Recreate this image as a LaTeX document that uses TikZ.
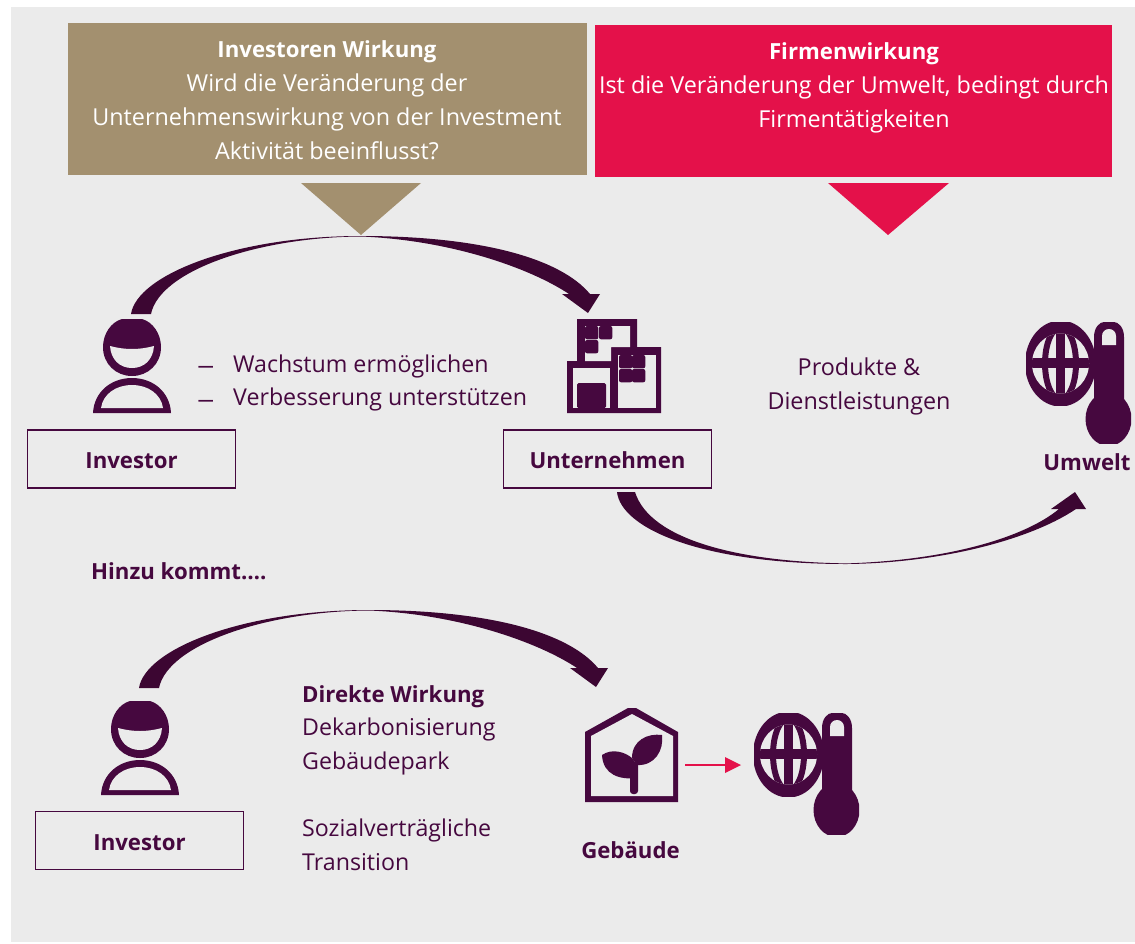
\documentclass[tikz,border=0pt]{standalone}
\usepackage{fontspec}
\setmainfont{Open Sans}
\definecolor{bgc}{HTML}{EBEBEB}
\definecolor{tanc}{HTML}{A3906F}
\definecolor{redc}{HTML}{E4114A}
\definecolor{purp}{HTML}{46083F}
\definecolor{arrc}{HTML}{3C0632}
\newcommand{\bld}[1]{{\fontsize{22.2}{34}\selectfont\bfseries #1}}
\newcommand{\longdash}{\scalebox{1.5}[1]{–}}
\newcommand{\lowered}[2]{\raisebox{-#1}[\height][0pt]{#2}}
\newcommand{\personicon}[2]{%
\begin{scope}[shift={(#1,#2)}]
\fill[purp] (122,319) -- (142,319) .. controls (153,322) and (161,334) .. (161,347) .. controls (161,364) and (148,376) .. (132,376) .. controls (116,376) and (103,364) .. (103,347) .. controls (103,334) and (111,322) .. (122,319) -- cycle;
\fill[bgc] (110,346) .. controls (125,350) and (139,350) .. (154,346) .. controls (153,360) and (144,368) .. (132,368) .. controls (120,368) and (111,360) .. (110,346) -- cycle;
\fill[purp] (93,413) .. controls (94,392) and (111,378) .. (132,378) .. controls (153,378) and (170,392) .. (171,413) -- cycle;
\fill[bgc] (101,408) .. controls (103,394) and (116,385) .. (132,385) .. controls (148,385) and (161,394) .. (163,408) -- cycle;
\end{scope}}
\newcommand{\globeicon}[2]{%
\begin{scope}[shift={(#1,#2)}]
\begin{scope}
\clip (1026,322) rectangle (1096,405);
\fill[purp] (1060.5,363.5) ellipse [x radius=35.5,y radius=43];
\end{scope}
\begin{scope}
\clip (1060.5,363.5) ellipse [x radius=28.5,y radius=30];
\fill[bgc] (1025,325) rectangle (1096,402);
\draw[purp,line width=6] (1060.5,363.5) ellipse [x radius=15.5,y radius=36];
\fill[purp] (1056.25,322) rectangle (1064.75,405);
\fill[purp] (1026,358.25) rectangle (1096,367.75);
\end{scope}
\begin{scope}
\clip (1080,322) rectangle (1131,443);
\fill[purp] (1094,337) .. controls (1094,327) and (1100,322) .. (1104,322) -- (1114,322) .. controls (1118,322) and (1124,327) .. (1124,337) -- (1124,400) -- (1094,400) -- cycle;
\fill[purp] (1108.5,419) ellipse [x radius=23,y radius=27];
\end{scope}
\fill[bgc] (1102,345) -- (1102,336) .. controls (1102,332) and (1105,329) .. (1109,329) .. controls (1113,329) and (1116,332) .. (1116,336) -- (1116,345) -- cycle;
\end{scope}}
\newcommand{\sweeparrow}[2]{%
\begin{scope}[shift={(#1,#2)}]
\fill[arrc] (131,314) .. controls (137,275) and (235,236) .. (361,236) .. controls (480,236) and (560,258) .. (590,294) -- (600,294) -- (588,313) -- (562,294) -- (569,294) .. controls (530,268) and (450,240) .. (361,236.5) .. controls (260,237) and (160,270) .. (151,314) -- cycle;
\end{scope}}
\tikzset{
  x=1pt,y=-1pt,
  headtext/.style={text=white,align=center,font=\fontsize{23.35}{34}\selectfont},
  bodytext/.style={text=purp,align=left,anchor=west,inner sep=0pt,font=\fontsize{23.2}{33.7}\selectfont},
  boldtext/.style={text=purp,font=\fontsize{22.2}{34}\selectfont\bfseries},
  labelbox/.style={draw=purp,line width=1.8pt,minimum width=208pt,minimum height=58pt,inner sep=0pt,text=purp,font=\fontsize{22.2}{34}\selectfont\bfseries},
}
\begin{document}
\begin{tikzpicture}
\useasboundingbox (0,0) rectangle (1135,943);
\fill[white] (0,0) rectangle (1135,943);
\fill[bgc] (11,7) rectangle (1135,942);
% header boxes
\fill[tanc] (68,23) rectangle (587,175);
\fill[redc] (595,25) rectangle (1112,177);
\fill[tanc] (301,183) -- (421,183) -- (361,235) -- cycle;
\fill[redc] (828,183) -- (949,183) -- (888,235) -- cycle;
\node[headtext] (hl) at (327,100) {\bld{Investoren Wirkung}\\Wird die Veränderung der\\Unternehmenswirkung von der Investment\\Aktivität beeinflusst?};
\node[headtext] (hr) at (854,87.5) {\bld{Firmenwirkung}\\Ist die Veränderung der Umwelt, bedingt durch\\Firmentätigkeiten};
% arrows
\sweeparrow{0}{0}
\sweeparrow{8}{374}
\fill[arrc] (617,492) .. controls (621,528) and (700,564) .. (847,564) .. controls (940,563) and (1030,540) .. (1076,509) -- (1086,509) -- (1075,492) -- (1051,509) -- (1059,509) .. controls (1025,537) and (950,560) .. (847,563.4) .. controls (740,562) and (650,540) .. (635,492) -- cycle;
% people
\personicon{0}{0}
\personicon{8}{382}
% building
\fill[purp] (577,319) -- (637,319) -- (637,347) -- (661,347) -- (661,413) -- (567,413) -- (567,361) -- (577,361) -- cycle;
\fill[bgc] (585,326) -- (630,326) -- (630,347) -- (611,347) -- (611,361) -- (585,361) -- cycle;
\fill[bgc] (573,368) rectangle (610,408);
\fill[bgc] (618,355) rectangle (656,408);
\fill[purp,rounded corners=1.5pt] (577,383) rectangle (606,408);
\foreach \xa/\ya in {585/326,599/326,585/340,619/355,632/355,619/369,632/369}
  \fill[purp,rounded corners=2pt] (\xa,\ya) rectangle ++(13.3,13.3);
% globes
\globeicon{0}{0}
\globeicon{-272}{391}
% house
\fill[purp] (585,732) -- (628,708) -- (636,708) -- (678,732) -- (678,802) -- (585,802) -- cycle;
\fill[bgc] (591,736) -- (632,714) -- (673,736) -- (673,796) -- (591,796) -- cycle;
\fill[purp] (632,758) .. controls (632,740) and (648,733) .. (662,735) .. controls (664,750) and (655,766) .. (637,765) -- cycle;
\fill[purp] (602,755) .. controls (612,748) and (625,752) .. (632,758) -- (637,765) -- (637,778) .. controls (620,780) and (603,775) .. (602,755) -- cycle;
\fill[purp,rounded corners=3pt] (630,762) rectangle (638,794);
% red connector
\coordinate (gebr) at (685,765);
\coordinate (globel) at (741,765);
\fill[redc] (725,757) -- (globel) -- (725,773) -- cycle;
\draw[redc,line width=2pt] (gebr) -- (726,765);
% text
\node[bodytext] (dash) at (197,387) {\longdash\\\longdash};
\node[bodytext] (gains) at (233,383) {Wachstum ermöglichen\\Verbesserung unterstützen};
\node[headtext,text=purp] (prod) at (859,386) {Produkte \&\\Dienstleistungen};
\node[labelbox] (inv1) at (131.5,459) {\lowered{2pt}{Investor}};
\node[labelbox] (unt) at (607.5,459) {\lowered{1pt}{Unternehmen}};
\node[labelbox] (inv2) at (139.5,840.5) {\lowered{2pt}{Investor}};
\node[boldtext] (umw) at (1087,462) {Umwelt};
\node[boldtext,anchor=west,inner sep=0pt] (hinzu) at (91,571) {Hinzu kommt….};
\node[boldtext] (geb) at (630.5,850) {Gebäude};
\node[bodytext] (dir) at (302,778) {\bld{Direkte Wirkung}\\Dekarbonisierung\\Gebäudepark\\\strut\\Sozialverträgliche\\Transition};
\end{tikzpicture}
\end{document}
